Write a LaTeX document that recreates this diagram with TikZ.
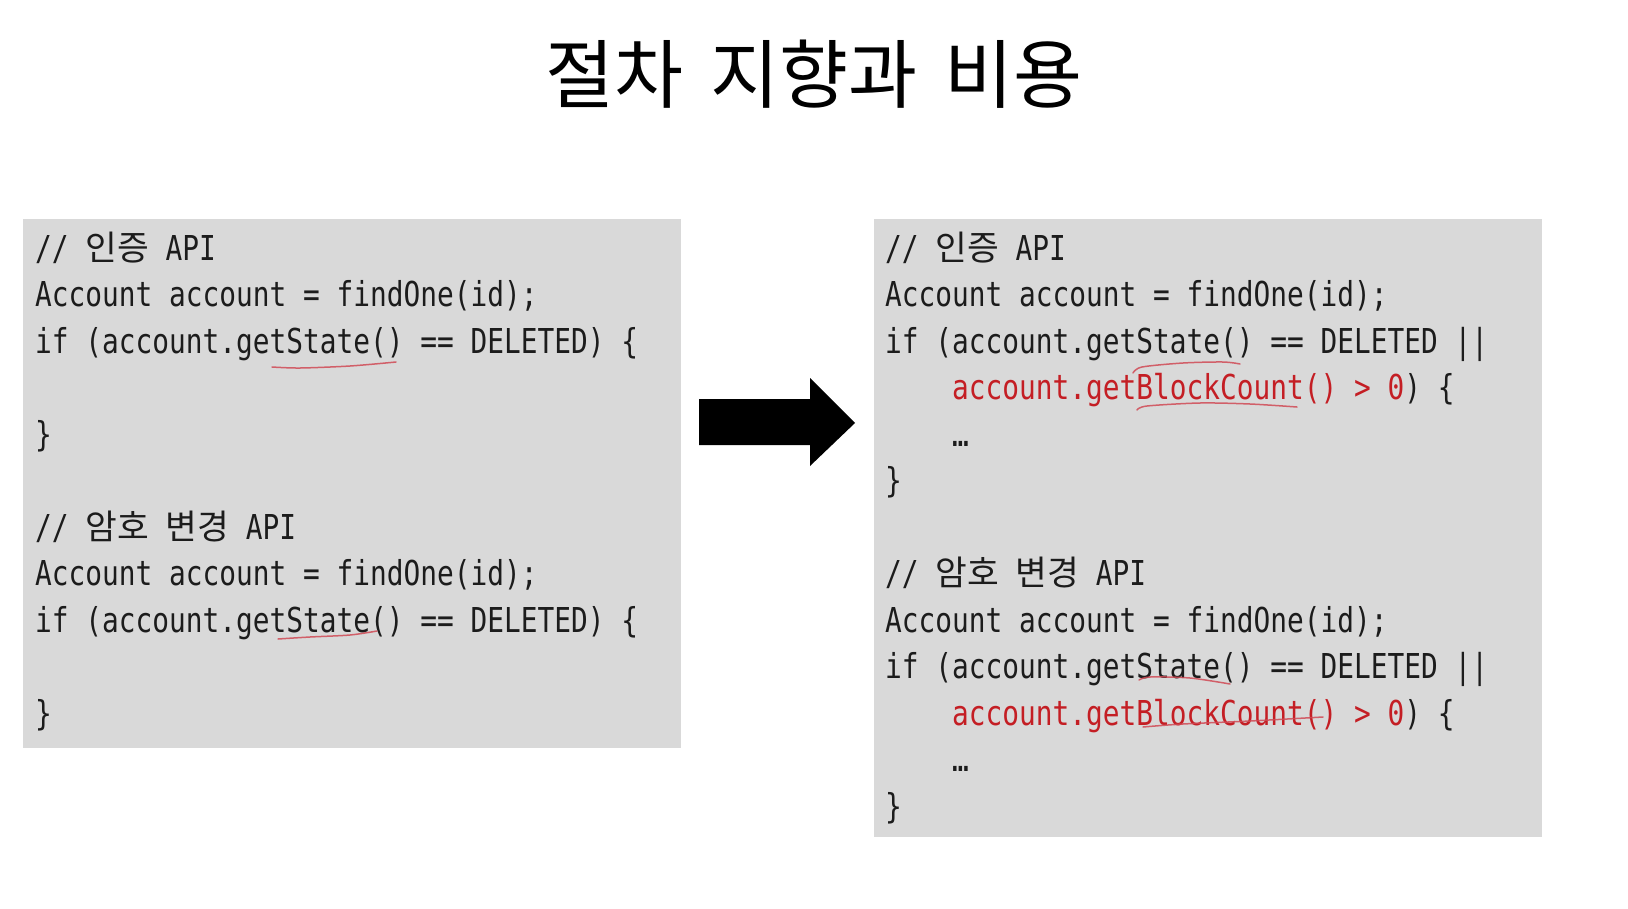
\documentclass[tikz,border=0pt]{standalone}
\usepackage{fontspec}
\newfontfamily\codefont[FakeStretch=0.811]{DejaVu Sans Mono}
\newfontfamily\kofont{Noto Sans CJK KR}
\newfontfamily\titlefont{Noto Sans CJK KR}
\newcommand{\kor}[1]{{\kofont\fontsize{34.5}{40}\selectfont #1}}
\definecolor{boxgray}{HTML}{D9D9D9}
\definecolor{codered}{HTML}{C41E24}
\definecolor{codeblack}{HTML}{1C1C1C}
\definecolor{penred}{HTML}{D04A55}
\begin{document}
\begin{tikzpicture}[x=1pt,y=-1pt,
  codebox/.style={fill=boxgray, draw=none, inner sep=0pt, anchor=north west},
  codeline/.style={anchor=base west, inner sep=0pt, text=codeblack, font=\codefont\fontsize{34.3}{40}\selectfont},
  penmark/.style={draw=penred, line width=1.5pt, line cap=round, opacity=0.85}]
\useasboundingbox (0,0) rectangle (1628,908);
\fill[white] (0,0) rectangle (1628,908);
% title
\node[inner sep=0pt, font=\titlefont\fontsize{75}{85}\selectfont, text=black] (title) at (814,74) {절차\hspace*{0.36em}지향과\hspace*{0.36em}비용};
% boxes
\node[codebox, minimum width=658pt, minimum height=529pt] (leftbox) at (23,219) {};
\node[codebox, minimum width=668pt, minimum height=618pt] (rightbox) at (874,219) {};
% arrow
\fill[black] (699,399) -- (810,399) -- (810,378) -- (855,423) -- (810,466) -- (810,445) -- (699,445) -- cycle;
% left code
\node[codeline] (la0) at (35,260) {// \kor{인증} API};
\node[codeline] (la1) at (35,306.5) {Account account = findOne(id);};
\node[codeline] (la2) at (35,353) {if (account.getState() == DELETED) \{};
\node[codeline] (la4) at (35,446) {\}};
\node[codeline] (lb0) at (35,539) {// \kor{암호} \kor{변경} API};
\node[codeline] (lb1) at (35,585.5) {Account account = findOne(id);};
\node[codeline] (lb2) at (35,632) {if (account.getState() == DELETED) \{};
\node[codeline] (lb4) at (35,725) {\}};
% right code
\node[codeline] (ra0) at (885,260) {// \kor{인증} API};
\node[codeline] (ra1) at (885,306.5) {Account account = findOne(id);};
\node[codeline] (ra2) at (885,353) {if (account.getState() == DELETED ||};
\node[codeline] (ra3) at (952,399.5) {\textcolor{codered}{account.getBlockCount() > 0}) \{};
\node[codeline] (ra4) at (952,446) {…};
\node[codeline] (ra5) at (885,492.5) {\}};
\node[codeline] (rb0) at (885,585.5) {// \kor{암호} \kor{변경} API};
\node[codeline] (rb1) at (885,632) {Account account = findOne(id);};
\node[codeline] (rb2) at (885,678.5) {if (account.getState() == DELETED ||};
\node[codeline] (rb3) at (952,725) {\textcolor{codered}{account.getBlockCount() > 0}) \{};
\node[codeline] (rb4) at (952,771.5) {…};
\node[codeline] (rb5) at (885,818) {\}};
% pen marks
\draw[penmark] plot[smooth] coordinates {(272,367) (300,368) (350,366) (396,362)};
\draw[penmark] plot[smooth] coordinates {(278,639) (310,637) (350,635) (377,631)};
\draw[penmark] plot[smooth] coordinates {(1133,373) (1142,367) (1183,363) (1223,362) (1240,364)};
\draw[penmark] plot[smooth] coordinates {(1137,410) (1147,406) (1200,403) (1250,404) (1297,407)};
\draw[penmark] plot[smooth] coordinates {(1139,680) (1150,677) (1190,678) (1230,684)};
\draw[penmark] plot[smooth] coordinates {(1143,727) (1183,724) (1250,721) (1323,717)};
\end{tikzpicture}
\end{document}
